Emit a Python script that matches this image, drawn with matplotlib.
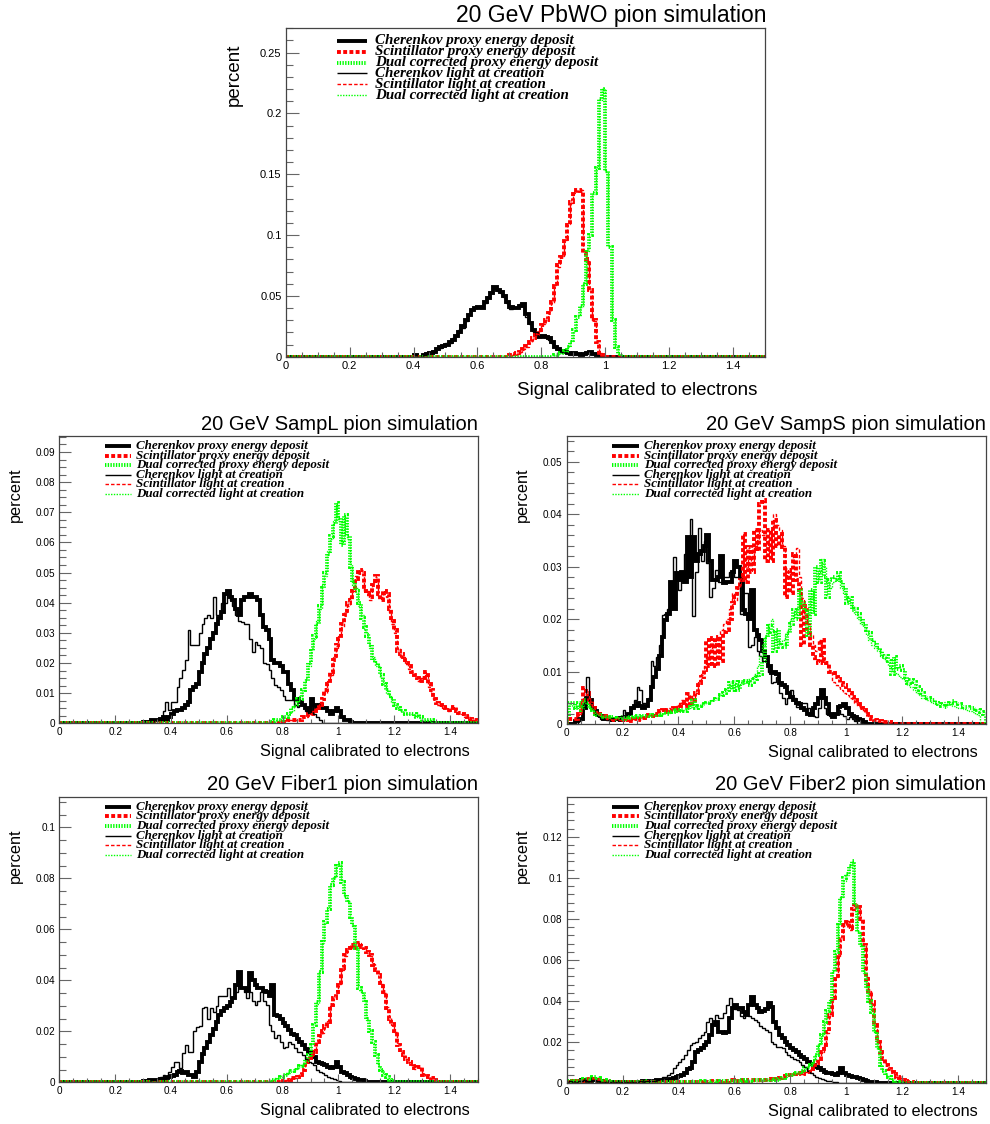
import numpy as np
import matplotlib
matplotlib.use("Agg")
from matplotlib import pyplot as plt
from matplotlib.ticker import MultipleLocator, FuncFormatter

plt.rcParams['font.family'] = 'Liberation Sans'

W, H = 990, 1124

# 150 bins of 0.01 between 0 and 1.5
edges = np.linspace(0.0, 1.5, 151)

labels = ["Cherenkov proxy energy deposit",
          "Scintillator proxy energy deposit",
          "Dual corrected proxy energy deposit",
          "Cherenkov light at creation",
          "Scintillator light at creation",
          "Dual corrected light at creation"]

# ---- PbWO: (first bin, contents) ----
pbwo_cer_dep = (0.40, [0.001, 0.0, 0.0, 0.001, 0.002, 0.003, 0.004, 0.006, 0.008, 0.009,
                       0.010, 0.012, 0.014, 0.017, 0.020, 0.025, 0.030, 0.034, 0.038, 0.040,
                       0.041, 0.040, 0.045, 0.048, 0.052, 0.057, 0.055, 0.053, 0.050, 0.045,
                       0.041, 0.040, 0.040, 0.042, 0.043, 0.035, 0.028, 0.022, 0.019, 0.016,
                       0.017, 0.016, 0.015, 0.012, 0.008, 0.006, 0.005, 0.004, 0.003, 0.002,
                       0.003, 0.002, 0.001, 0.002, 0.003, 0.004, 0.002, 0.001])
pbwo_sci_dep = (0.70, [0.001, 0.002, 0.003, 0.004, 0.006, 0.009, 0.012, 0.015, 0.018, 0.022,
                       0.026, 0.030, 0.036, 0.045, 0.058, 0.075, 0.082, 0.097, 0.108, 0.127,
                       0.134, 0.137, 0.136, 0.085, 0.080, 0.055, 0.030, 0.012, 0.003, 0.001])
pbwo_dual_dep = (0.84, [0.001, 0.002, 0.003, 0.005, 0.008, 0.012, 0.022, 0.033, 0.042, 0.060,
                        0.088, 0.100, 0.135, 0.155, 0.212, 0.220, 0.153, 0.090, 0.030, 0.008,
                        0.002])
pbwo_cer_light = (0.40, [0.001, 0.0, 0.0, 0.001, 0.002, 0.003, 0.005, 0.006, 0.007, 0.009,
                         0.011, 0.011, 0.015, 0.017, 0.022, 0.024, 0.029, 0.035, 0.039, 0.041,
                         0.040, 0.042, 0.044, 0.049, 0.053, 0.056, 0.054, 0.052, 0.049, 0.044,
                         0.039, 0.041, 0.041, 0.043, 0.042, 0.033, 0.027, 0.021, 0.020, 0.017,
                         0.016, 0.017, 0.014, 0.011, 0.009, 0.006, 0.004, 0.004, 0.003, 0.002,
                         0.002, 0.002, 0.001, 0.002, 0.003, 0.004, 0.002, 0.001])
pbwo_sci_light = (0.70, [0.001, 0.002, 0.002, 0.004, 0.006, 0.008, 0.012, 0.014, 0.019, 0.021,
                         0.027, 0.030, 0.037, 0.044, 0.059, 0.074, 0.083, 0.096, 0.109, 0.126,
                         0.135, 0.136, 0.137, 0.086, 0.079, 0.056, 0.029, 0.012, 0.003, 0.001])
pbwo_dual_light = (0.84, [0.001, 0.002, 0.003, 0.005, 0.008, 0.013, 0.021, 0.034, 0.041, 0.061,
                          0.087, 0.101, 0.134, 0.156, 0.211, 0.221, 0.152, 0.091, 0.031, 0.008,
                          0.002])

# ---- SampL ----
sampl_cer_dep = (0.30, [0.0005, 0.0005, 0.0005, 0.001, 0.001, 0.001, 0.0015, 0.002, 0.001, 0.002,
                        0.003, 0.004, 0.0045, 0.0045, 0.005, 0.006, 0.007, 0.011, 0.012, 0.013,
                        0.017, 0.020, 0.023, 0.025, 0.028, 0.030, 0.033, 0.035, 0.037, 0.043,
                        0.044, 0.042, 0.041, 0.038, 0.036, 0.041, 0.042, 0.042, 0.043, 0.042,
                        0.042, 0.041, 0.036, 0.032, 0.031, 0.028, 0.021, 0.020, 0.020, 0.019,
                        0.017, 0.017, 0.013, 0.011, 0.008, 0.008, 0.007, 0.006, 0.005, 0.004,
                        0.008, 0.006, 0.005, 0.006, 0.005, 0.005, 0.004, 0.003, 0.004, 0.005,
                        0.004, 0.002, 0.001, 0.001, 0.0005])
sampl_sci_dep = (0.80, [0.0005, 0.0005, 0.001, 0.001, 0.001, 0.001, 0.001, 0.002, 0.002, 0.003,
                        0.003, 0.004, 0.005, 0.006, 0.008, 0.011, 0.013, 0.017, 0.021, 0.026,
                        0.028, 0.033, 0.036, 0.040, 0.041, 0.045, 0.048, 0.051, 0.050, 0.044,
                        0.043, 0.042, 0.046, 0.049, 0.043, 0.041, 0.044, 0.043, 0.038, 0.034,
                        0.031, 0.024, 0.023, 0.022, 0.020, 0.019, 0.017, 0.016, 0.015, 0.014,
                        0.015, 0.017, 0.013, 0.011, 0.008, 0.0066, 0.006, 0.0055, 0.005, 0.0044,
                        0.005, 0.0055, 0.004, 0.0035, 0.003, 0.0025, 0.002, 0.0015, 0.001, 0.001])
sampl_dual_dep = (0.75, [0.0005, 0.0005, 0.001, 0.001, 0.001, 0.002, 0.002, 0.003, 0.005, 0.006,
                         0.008, 0.008, 0.011, 0.014, 0.020, 0.024, 0.029, 0.033, 0.039, 0.045,
                         0.050, 0.056, 0.062, 0.066, 0.073, 0.068, 0.059, 0.069, 0.062, 0.052,
                         0.047, 0.044, 0.040, 0.035, 0.032, 0.029, 0.026, 0.021, 0.020, 0.019,
                         0.016, 0.013, 0.011, 0.009, 0.008, 0.006, 0.005, 0.004, 0.004, 0.003,
                         0.003, 0.003, 0.002, 0.003, 0.002, 0.001, 0.001, 0.001, 0.001])
sampl_cer_light = (0.34, [0.001, 0.001, 0.001, 0.004, 0.007, 0.0044, 0.007, 0.0072, 0.012, 0.015,
                          0.0177, 0.021, 0.031, 0.026, 0.026, 0.026, 0.030, 0.033, 0.035, 0.036,
                          0.035, 0.042, 0.036, 0.036, 0.040, 0.040, 0.043, 0.041, 0.039, 0.036,
                          0.034, 0.0335, 0.033, 0.033, 0.028, 0.0237, 0.027, 0.026, 0.025, 0.020,
                          0.0196, 0.0177, 0.015, 0.0127, 0.012, 0.011, 0.009, 0.0077, 0.0077, 0.0077,
                          0.006, 0.0055, 0.006, 0.006, 0.004, 0.0033, 0.0083, 0.003, 0.002, 0.001])
sampl_sci_light = (0.80, [0.0005, 0.001, 0.001, 0.001, 0.001, 0.0015, 0.001, 0.002, 0.002, 0.003,
                          0.004, 0.004, 0.005, 0.007, 0.008, 0.010, 0.014, 0.016, 0.022, 0.025,
                          0.029, 0.032, 0.037, 0.039, 0.042, 0.044, 0.049, 0.050, 0.051, 0.044,
                          0.044, 0.041, 0.047, 0.048, 0.042, 0.042, 0.043, 0.042, 0.037, 0.033,
                          0.030, 0.025, 0.022, 0.022, 0.020, 0.018, 0.017, 0.016, 0.014, 0.015,
                          0.015, 0.016, 0.012, 0.010, 0.008, 0.006, 0.006, 0.005, 0.005, 0.004,
                          0.005, 0.005, 0.004, 0.003, 0.003, 0.002, 0.002, 0.0015, 0.001, 0.001])
sampl_dual_light = (0.75, [0.0005, 0.001, 0.001, 0.001, 0.0015, 0.002, 0.002, 0.003, 0.004, 0.006,
                           0.007, 0.009, 0.011, 0.015, 0.019, 0.025, 0.028, 0.034, 0.038, 0.046,
                           0.049, 0.057, 0.061, 0.067, 0.072, 0.067, 0.060, 0.068, 0.061, 0.053,
                           0.046, 0.045, 0.039, 0.036, 0.031, 0.030, 0.025, 0.022, 0.019, 0.019,
                           0.015, 0.013, 0.010, 0.009, 0.007, 0.006, 0.005, 0.004, 0.003, 0.003,
                           0.003, 0.003, 0.002, 0.002, 0.002, 0.001, 0.001, 0.001, 0.0005])

# ---- SampS ----
samps_cer_dep = (0.0, [0.0, 0.0, 0.0, 0.0005, 0.001, 0.001, 0.003, 0.005, 0.0045, 0.003,
                       0.0025, 0.002, 0.0015, 0.001, 0.0012, 0.001, 0.0008, 0.001, 0.0012, 0.0008,
                       0.001, 0.0014, 0.002, 0.003, 0.0035, 0.004, 0.0035, 0.003, 0.0035, 0.0046,
                       0.007, 0.009, 0.0105, 0.013, 0.0166, 0.0198, 0.021, 0.027, 0.022, 0.0287,
                       0.0274, 0.029, 0.027, 0.0357, 0.028, 0.0357, 0.031, 0.0325, 0.033, 0.034,
                       0.036, 0.031, 0.0274, 0.0274, 0.028, 0.032, 0.0268, 0.027, 0.027, 0.029,
                       0.031, 0.030, 0.028, 0.0217, 0.021, 0.020, 0.0255, 0.018, 0.017, 0.016,
                       0.014, 0.0128, 0.011, 0.0097, 0.010, 0.0095, 0.0078, 0.0075, 0.0071, 0.006,
                       0.0052, 0.0045, 0.004, 0.0039, 0.003, 0.0027, 0.002, 0.0017, 0.003, 0.0039,
                       0.005, 0.0065, 0.005, 0.0039, 0.002, 0.0014, 0.002, 0.0033, 0.0035, 0.0039,
                       0.003, 0.002, 0.0015, 0.0014, 0.001, 0.0008, 0.0003])
samps_sci_dep = (0.0, [0.0005, 0.001, 0.001, 0.001, 0.002, 0.004, 0.0068, 0.006, 0.0046, 0.003,
                       0.002, 0.002, 0.0018, 0.0015, 0.0012, 0.001, 0.001, 0.0008, 0.001, 0.0008,
                       0.001, 0.0008, 0.001, 0.0006, 0.001, 0.0008, 0.001, 0.0012, 0.0015, 0.0017,
                       0.0015, 0.002, 0.0017, 0.0025, 0.0027, 0.0022, 0.0027, 0.0025, 0.003, 0.0027,
                       0.0035, 0.004, 0.0035, 0.0058, 0.004, 0.0046, 0.006, 0.0078, 0.009, 0.0103,
                       0.016, 0.011, 0.0163, 0.011, 0.0166, 0.012, 0.0176, 0.018, 0.020, 0.023,
                       0.0243, 0.026, 0.0274, 0.0363, 0.027, 0.0338, 0.029, 0.037, 0.033, 0.042,
                       0.0427, 0.031, 0.037, 0.031, 0.0389, 0.034, 0.0363, 0.0338, 0.0243, 0.0294,
                       0.025, 0.0325, 0.0274, 0.0255, 0.015, 0.0224, 0.0173, 0.015, 0.0128, 0.012,
                       0.0116, 0.016, 0.012, 0.0116, 0.010, 0.0097, 0.009, 0.0085, 0.0078, 0.0075,
                       0.0071, 0.006, 0.0052, 0.0045, 0.0039, 0.003, 0.0027, 0.002, 0.0014, 0.001,
                       0.0008, 0.0006, 0.0005, 0.0003, 0.0003, 0.0003])
samps_dual_dep = (0.0, [0.002, 0.004, 0.004, 0.003, 0.004, 0.0027, 0.0046, 0.004, 0.003, 0.0027,
                        0.002, 0.0018, 0.0015, 0.0014, 0.0014, 0.0012, 0.0014, 0.001, 0.0012, 0.0014,
                        0.001, 0.0012, 0.0014, 0.0012, 0.0014, 0.0015, 0.0014, 0.0016, 0.0015, 0.0017,
                        0.0016, 0.0018, 0.0017, 0.002, 0.0018, 0.0022, 0.002, 0.0024, 0.0022, 0.0026,
                        0.0025, 0.0027, 0.0024, 0.003, 0.0033, 0.0046, 0.003, 0.0035, 0.0037, 0.0039,
                        0.004, 0.0042, 0.0046, 0.0048, 0.0052, 0.0055, 0.006, 0.0065, 0.0078, 0.0065,
                        0.008, 0.0065, 0.008, 0.0078, 0.0082, 0.0075, 0.008, 0.0085, 0.009, 0.0095,
                        0.012, 0.0165, 0.0186, 0.0175, 0.014, 0.018, 0.0147, 0.015, 0.0147, 0.0173,
                        0.019, 0.0217, 0.020, 0.0255, 0.023, 0.0217, 0.017, 0.0255, 0.021, 0.030,
                        0.027, 0.031, 0.028, 0.0243, 0.0274, 0.028, 0.0274, 0.0287, 0.027, 0.026,
                        0.023, 0.024, 0.0217, 0.022, 0.021, 0.020, 0.019, 0.018, 0.0173, 0.016,
                        0.0154, 0.0145, 0.014, 0.0128, 0.013, 0.012, 0.0095, 0.0128, 0.0105, 0.011,
                        0.0103, 0.009, 0.0078, 0.0084, 0.008, 0.007, 0.0065, 0.006, 0.0052, 0.005,
                        0.0046, 0.0045, 0.004, 0.0039, 0.0035, 0.0033, 0.0035, 0.004, 0.0043, 0.004,
                        0.0039, 0.0035, 0.0033, 0.0033, 0.003, 0.003, 0.0028, 0.0027, 0.0022, 0.002])
samps_cer_light = (0.0, [0.0, 0.0, 0.0, 0.0, 0.0005, 0.001, 0.004, 0.009, 0.004, 0.003,
                         0.002, 0.0015, 0.001, 0.001, 0.0008, 0.001, 0.0012, 0.001, 0.0008, 0.0015,
                         0.0027, 0.002, 0.002, 0.003, 0.0046, 0.0071, 0.0065, 0.004, 0.004, 0.005,
                         0.012, 0.011, 0.0128, 0.015, 0.0208, 0.021, 0.022, 0.025, 0.0319, 0.0274,
                         0.0255, 0.028, 0.0325, 0.0357, 0.039, 0.0205, 0.029, 0.0373, 0.031, 0.0348,
                         0.0306, 0.0243, 0.026, 0.0294, 0.027, 0.027, 0.028, 0.028, 0.029, 0.0294,
                         0.028, 0.028, 0.021, 0.025, 0.025, 0.0147, 0.015, 0.0166, 0.014, 0.013,
                         0.012, 0.012, 0.010, 0.0078, 0.008, 0.009, 0.006, 0.005, 0.0039, 0.005,
                         0.0065, 0.005, 0.0033, 0.0035, 0.004, 0.004, 0.003, 0.002, 0.0015, 0.0014,
                         0.003, 0.006, 0.003, 0.002, 0.0015, 0.0015, 0.002, 0.0027, 0.002, 0.0015,
                         0.001, 0.0014, 0.001, 0.0005])
samps_sci_light = (0.0, [0.0005, 0.001, 0.001, 0.0015, 0.002, 0.0045, 0.006, 0.0055, 0.004, 0.003,
                         0.0025, 0.002, 0.0015, 0.0015, 0.001, 0.001, 0.0008, 0.001, 0.0008, 0.0008,
                         0.001, 0.001, 0.0008, 0.001, 0.001, 0.001, 0.0012, 0.0014, 0.0015, 0.0017,
                         0.0018, 0.002, 0.0022, 0.0024, 0.0027, 0.0025, 0.003, 0.0028, 0.0032, 0.0035,
                         0.004, 0.0045, 0.004, 0.005, 0.0055, 0.005, 0.006, 0.008, 0.0095, 0.011,
                         0.013, 0.014, 0.015, 0.016, 0.0165, 0.018, 0.019, 0.020, 0.022, 0.025,
                         0.0235, 0.026, 0.028, 0.031, 0.030, 0.032, 0.031, 0.034, 0.035, 0.037,
                         0.036, 0.033, 0.035, 0.037, 0.040, 0.038, 0.037, 0.034, 0.029, 0.028,
                         0.030, 0.032, 0.0335, 0.028, 0.024, 0.021, 0.019, 0.017, 0.015, 0.014,
                         0.016, 0.013, 0.012, 0.011, 0.010, 0.008, 0.0075, 0.007, 0.0065, 0.006,
                         0.0055, 0.005, 0.0045, 0.004, 0.0035, 0.003, 0.0025, 0.002, 0.0015, 0.001,
                         0.0008, 0.0006, 0.0005, 0.0004, 0.0003])
samps_dual_light = (0.0, [0.003, 0.004, 0.0035, 0.003, 0.0035, 0.003, 0.004, 0.0038, 0.003, 0.0025,
                          0.002, 0.0018, 0.0015, 0.0014, 0.0013, 0.0012, 0.0013, 0.0011, 0.0012, 0.0013,
                          0.0011, 0.0012, 0.0013, 0.0013, 0.0014, 0.0014, 0.0015, 0.0015, 0.0016, 0.0017,
                          0.0017, 0.0018, 0.0018, 0.0019, 0.002, 0.0021, 0.0021, 0.0023, 0.0023, 0.0025,
                          0.0026, 0.0027, 0.0026, 0.003, 0.0032, 0.0038, 0.0033, 0.0036, 0.0038, 0.004,
                          0.0042, 0.0044, 0.0047, 0.005, 0.0053, 0.0056, 0.0062, 0.0068, 0.0072, 0.0068,
                          0.0074, 0.0072, 0.0076, 0.0078, 0.008, 0.0085, 0.0088, 0.0095, 0.011, 0.013,
                          0.015, 0.017, 0.019, 0.020, 0.0175, 0.016, 0.0155, 0.016, 0.017, 0.018,
                          0.020, 0.021, 0.022, 0.024, 0.023, 0.022, 0.021, 0.024, 0.025, 0.027,
                          0.029, 0.0315, 0.030, 0.027, 0.026, 0.027, 0.0275, 0.028, 0.026, 0.025,
                          0.024, 0.023, 0.0225, 0.021, 0.020, 0.019, 0.0185, 0.017, 0.016, 0.015,
                          0.0145, 0.014, 0.013, 0.0125, 0.012, 0.011, 0.0105, 0.010, 0.0095, 0.009,
                          0.0085, 0.008, 0.0075, 0.007, 0.0065, 0.006, 0.0055, 0.005, 0.0048, 0.0045,
                          0.0042, 0.004, 0.0038, 0.0036, 0.0038, 0.0042, 0.004, 0.0038, 0.0035, 0.0033,
                          0.003, 0.003, 0.0028, 0.0026, 0.0025, 0.0022, 0.002, 0.0018])

# ---- Fiber1 ----
fiber1_cer_dep = (0.30, [0.0005, 0.0005, 0.001, 0.0008, 0.001, 0.001, 0.0012, 0.001, 0.0016, 0.002,
                         0.0025, 0.003, 0.004, 0.0045, 0.0035, 0.004, 0.003, 0.003, 0.0022, 0.004,
                         0.008, 0.011, 0.0133, 0.016, 0.0186, 0.021, 0.0238, 0.0264, 0.028, 0.029,
                         0.030, 0.0315, 0.033, 0.038, 0.0434, 0.0369, 0.037, 0.036, 0.0427, 0.040,
                         0.038, 0.0369, 0.037, 0.036, 0.0356, 0.034, 0.038, 0.0264, 0.026, 0.025,
                         0.0231, 0.022, 0.0205, 0.019, 0.0186, 0.017, 0.016, 0.0146, 0.013, 0.012,
                         0.0114, 0.010, 0.008, 0.0075, 0.007, 0.0068, 0.006, 0.0055, 0.006, 0.008,
                         0.006, 0.0042, 0.0035, 0.003, 0.002, 0.0016, 0.0012, 0.001, 0.0008, 0.0005,
                         0.0003])
fiber1_sci_dep = (0.80, [0.0005, 0.001, 0.001, 0.0016, 0.0016, 0.002, 0.003, 0.005, 0.008, 0.0094,
                         0.011, 0.012, 0.016, 0.018, 0.020, 0.022, 0.0238, 0.0303, 0.033, 0.0356,
                         0.038, 0.0447, 0.050, 0.052, 0.0539, 0.0525, 0.054, 0.0545, 0.053, 0.0525,
                         0.051, 0.050, 0.046, 0.044, 0.042, 0.039, 0.0356, 0.029, 0.025, 0.023,
                         0.020, 0.0146, 0.012, 0.0107, 0.009, 0.008, 0.0065, 0.0055, 0.006, 0.006,
                         0.003, 0.0025, 0.002, 0.0016, 0.001, 0.0005])
fiber1_dual_dep = (0.75, [0.0005, 0.001, 0.001, 0.0016, 0.002, 0.003, 0.003, 0.004, 0.0045, 0.005,
                          0.006, 0.0065, 0.0068, 0.009, 0.0107, 0.0146, 0.0225, 0.0316, 0.0434, 0.055,
                          0.063, 0.068, 0.0774, 0.080, 0.085, 0.086, 0.0787, 0.0735, 0.0708, 0.065,
                          0.0617, 0.0525, 0.0369, 0.0356, 0.0316, 0.025, 0.020, 0.016, 0.0107, 0.0068,
                          0.005, 0.003, 0.002, 0.001, 0.0005])
fiber1_cer_light = (0.33, [0.001, 0.001, 0.0015, 0.002, 0.003, 0.0016, 0.004, 0.006, 0.008, 0.008,
                           0.0055, 0.0114, 0.0146, 0.012, 0.012, 0.020, 0.0218, 0.022, 0.029, 0.0297,
                           0.025, 0.029, 0.0277, 0.030, 0.034, 0.034, 0.034, 0.0369, 0.033, 0.033,
                           0.0356, 0.0395, 0.037, 0.0356, 0.033, 0.0356, 0.032, 0.0303, 0.032, 0.0356,
                           0.032, 0.0303, 0.0225, 0.020, 0.0173, 0.0186, 0.016, 0.0133, 0.014, 0.016,
                           0.015, 0.0133, 0.012, 0.012, 0.0107, 0.009, 0.008, 0.0075, 0.0068, 0.005,
                           0.0042, 0.0035, 0.003, 0.002, 0.0016, 0.0012, 0.001, 0.0005])
fiber1_sci_light = (0.80, [0.0005, 0.0008, 0.0012, 0.0015, 0.0018, 0.0022, 0.0032, 0.0048, 0.0078, 0.0098,
                           0.0105, 0.0125, 0.0155, 0.0185, 0.0195, 0.0225, 0.0242, 0.0298, 0.0335, 0.0352,
                           0.0385, 0.0442, 0.0495, 0.0525, 0.0535, 0.0528, 0.0535, 0.0548, 0.0528, 0.0522,
                           0.0515, 0.0495, 0.0465, 0.0435, 0.0425, 0.0385, 0.0352, 0.0295, 0.0255, 0.0225,
                           0.0198, 0.0152, 0.0118, 0.0105, 0.0092, 0.0078, 0.0068, 0.0052, 0.0062, 0.0058,
                           0.0032, 0.0024, 0.0018, 0.0015, 0.001, 0.0005])
fiber1_dual_light = (0.75, [0.0005, 0.001, 0.0015, 0.0015, 0.002, 0.0028, 0.0032, 0.0038, 0.0045, 0.0052,
                            0.0058, 0.0068, 0.007, 0.0085, 0.0102, 0.0152, 0.0232, 0.0308, 0.0441, 0.0545,
                            0.0625, 0.0688, 0.0768, 0.0806, 0.0846, 0.0858, 0.0795, 0.0728, 0.0712, 0.0645,
                            0.0612, 0.0532, 0.0375, 0.0352, 0.0322, 0.0245, 0.0205, 0.0155, 0.0112, 0.0065,
                            0.0048, 0.0032, 0.0018, 0.001, 0.0005])

# ---- Fiber2 ----
fiber2_cer_dep = (0.0, [0.0005, 0.0005, 0.001, 0.0005, 0.001, 0.0015, 0.001, 0.0015, 0.001, 0.002,
                        0.0015, 0.001, 0.001, 0.0008, 0.0005, 0.0005, 0.0008, 0.0005, 0.0005, 0.0008,
                        0.0005, 0.0005, 0.0008, 0.0005, 0.0008, 0.0005, 0.0008, 0.001, 0.0008, 0.001,
                        0.001, 0.0012, 0.0015, 0.0014, 0.0016, 0.0016, 0.0018, 0.002, 0.0024, 0.003,
                        0.0035, 0.004, 0.005, 0.007, 0.0073, 0.0105, 0.0154, 0.016, 0.017, 0.0186,
                        0.0203, 0.0235, 0.0284, 0.030, 0.025, 0.025, 0.0243, 0.025, 0.0316, 0.0365,
                        0.038, 0.0365, 0.0365, 0.0349, 0.0332, 0.038, 0.042, 0.038, 0.0365, 0.0349,
                        0.035, 0.036, 0.0389, 0.037, 0.030, 0.0268, 0.0235, 0.022, 0.0203, 0.0186,
                        0.017, 0.016, 0.0154, 0.0138, 0.013, 0.012, 0.0105, 0.0095, 0.0089, 0.008,
                        0.0073, 0.0065, 0.0057, 0.005, 0.0049, 0.0045, 0.004, 0.005, 0.0073, 0.005,
                        0.004, 0.0035, 0.0032, 0.003, 0.0024, 0.002, 0.0015, 0.001, 0.0008, 0.0005,
                        0.0005])
fiber2_sci_dep = (0.0, [0.0005, 0.0005, 0.001, 0.0005, 0.001, 0.001, 0.0015, 0.0015, 0.002, 0.002,
                        0.002, 0.0015, 0.0015, 0.001, 0.001, 0.0008, 0.0005, 0.0005, 0.0005, 0.0008,
                        0.0005, 0.0005, 0.0008, 0.0005, 0.0005, 0.0008, 0.0005, 0.0005, 0.0008, 0.0005,
                        0.0008, 0.0005, 0.0005, 0.0008, 0.0005, 0.0008, 0.0005, 0.0005, 0.0008, 0.0005,
                        0.0008, 0.0005, 0.0005, 0.0008, 0.0005, 0.0008, 0.0008, 0.0005, 0.0008, 0.001,
                        0.0008, 0.001, 0.0008, 0.0008, 0.001, 0.0008, 0.001, 0.0012, 0.0015, 0.0018,
                        0.0012, 0.001, 0.0012, 0.0014, 0.0012, 0.0015, 0.0014, 0.0016, 0.0015, 0.0018,
                        0.0016, 0.0018, 0.002, 0.0018, 0.002, 0.0022, 0.0024, 0.003, 0.0035, 0.004,
                        0.004, 0.0045, 0.0049, 0.005, 0.0045, 0.0055, 0.0057, 0.007, 0.0089, 0.010,
                        0.012, 0.015, 0.0186, 0.025, 0.0332, 0.0413, 0.051, 0.0624, 0.070, 0.077,
                        0.0786, 0.0754, 0.085, 0.0868, 0.086, 0.080, 0.0673, 0.051, 0.045, 0.0397,
                        0.0284, 0.0203, 0.0154, 0.012, 0.0089, 0.007, 0.0057, 0.0045, 0.0032, 0.0025,
                        0.0016, 0.001, 0.0008, 0.0005])
fiber2_dual_dep = (0.0, [0.0005, 0.001, 0.0005, 0.001, 0.001, 0.0015, 0.002, 0.002, 0.0025, 0.003,
                         0.003, 0.0025, 0.002, 0.0015, 0.001, 0.001, 0.0008, 0.0005, 0.0005, 0.0005,
                         0.0005, 0.0008, 0.0005, 0.0005, 0.0008, 0.0005, 0.0005, 0.0008, 0.001, 0.0005,
                         0.0005, 0.0008, 0.0005, 0.0008, 0.0005, 0.0005, 0.0008, 0.0005, 0.0005, 0.0008,
                         0.0005, 0.0005, 0.0008, 0.0005, 0.0005, 0.0008, 0.0005, 0.0008, 0.001, 0.0008,
                         0.0008, 0.001, 0.0008, 0.001, 0.0008, 0.001, 0.001, 0.0012, 0.001, 0.0012,
                         0.001, 0.0012, 0.0014, 0.0012, 0.0014, 0.0012, 0.0015, 0.0014, 0.0015, 0.0016,
                         0.0016, 0.0018, 0.0016, 0.0018, 0.002, 0.0018, 0.002, 0.0024, 0.003, 0.004,
                         0.004, 0.0045, 0.0049, 0.005, 0.006, 0.0073, 0.008, 0.0089, 0.011, 0.0138,
                         0.0186, 0.0235, 0.030, 0.035, 0.0397, 0.0543, 0.064, 0.077, 0.090, 0.0997,
                         0.102, 0.106, 0.108, 0.0868, 0.0738, 0.0673, 0.0543, 0.0462, 0.040, 0.0349,
                         0.025, 0.017, 0.0089, 0.006, 0.004, 0.003, 0.0016, 0.001, 0.0005])
fiber2_cer_light = (0.0, [0.0005, 0.001, 0.0005, 0.0008, 0.001, 0.001, 0.0015, 0.001, 0.0012, 0.0015,
                          0.0012, 0.001, 0.0008, 0.0005, 0.0005, 0.0008, 0.0005, 0.0005, 0.0005, 0.0008,
                          0.0005, 0.0008, 0.0005, 0.0008, 0.0005, 0.0008, 0.001, 0.0008, 0.001, 0.001,
                          0.001, 0.0012, 0.0015, 0.002, 0.0032, 0.003, 0.004, 0.005, 0.0073, 0.009,
                          0.0105, 0.012, 0.0138, 0.016, 0.0186, 0.0195, 0.020, 0.0219, 0.0235, 0.025,
                          0.030, 0.0316, 0.0284, 0.0332, 0.032, 0.0316, 0.034, 0.038, 0.0413, 0.0365,
                          0.036, 0.0357, 0.033, 0.0316, 0.0349, 0.033, 0.0316, 0.031, 0.030, 0.028,
                          0.0268, 0.026, 0.025, 0.0203, 0.019, 0.0178, 0.0175, 0.017, 0.015, 0.0138,
                          0.013, 0.012, 0.0114, 0.0105, 0.009, 0.0081, 0.006, 0.005, 0.004, 0.003,
                          0.0024, 0.002, 0.0016, 0.0012, 0.001, 0.0008, 0.0005])
fiber2_sci_light = (0.70, [0.0015, 0.0017, 0.0021, 0.0019, 0.0021, 0.0023, 0.0025, 0.0031, 0.0034, 0.0041,
                           0.0039, 0.0046, 0.0048, 0.0052, 0.0047, 0.0054, 0.0059, 0.0072, 0.0087, 0.0102,
                           0.0118, 0.0152, 0.0188, 0.0245, 0.0335, 0.0408, 0.0515, 0.0618, 0.0705, 0.0765,
                           0.0792, 0.0748, 0.0845, 0.0875, 0.0855, 0.0795, 0.0678, 0.0515, 0.0448, 0.0392,
                           0.0288, 0.0198, 0.0158, 0.0118, 0.0092, 0.0068, 0.0058, 0.0044, 0.0033, 0.0024,
                           0.0016, 0.001, 0.0008, 0.0005])
fiber2_dual_light = (0.70, [0.0015, 0.0018, 0.0017, 0.002, 0.0022, 0.002, 0.0023, 0.0026, 0.0032, 0.0038,
                            0.0042, 0.0044, 0.0048, 0.0052, 0.0062, 0.0075, 0.0082, 0.0092, 0.0115, 0.0142,
                            0.0192, 0.0242, 0.0298, 0.0355, 0.0405, 0.0552, 0.0648, 0.0775, 0.0905, 0.0985,
                            0.1015, 0.1052, 0.1075, 0.0872, 0.0742, 0.0668, 0.0538, 0.0455, 0.0395, 0.0342,
                            0.0248, 0.0165, 0.0092, 0.0062, 0.0042, 0.0028, 0.0016, 0.001, 0.0005])

# line attributes in legend order
styles = [
    dict(color='black', lw=2.8, ls='-'),
    dict(color='#ff0000', lw=2.8, ls=(0, (1.0, 0.6))),
    dict(color='#00ff00', lw=2.8, ls=(0, (0.35, 0.35))),
    dict(color='black', lw=1.0, ls='-'),
    dict(color='#ff0000', lw=1.0, ls=(0, (2.5, 1.5))),
    dict(color='#00ff00', lw=1.0, ls=(0, (1.0, 1.0))),
]


def hist(start, values):
    h = np.zeros(len(edges) - 1)
    i = int(round(start / 0.01))
    h[i:i + len(values)] = values
    return h


def fig_xy(x, y):
    return x / W, 1 - y / H


def draw_panel(fig, box, series, ymax, ymajor, yminor, sizes, leg):
    left, top, right, bottom = box
    ax = fig.add_axes([left / W, 1 - bottom / H, (right - left) / W, (bottom - top) / H])
    for (start, vals), st in zip(series, styles):
        ax.stairs(hist(start, vals), edges, color=st['color'], lw=st['lw'],
                  linestyle=st['ls'], joinstyle='miter', capstyle='butt')

    ax.set_xlim(0, 1.5)
    ax.set_ylim(0, ymax)
    fmt = FuncFormatter(lambda v, p: f"{v:g}")
    ax.xaxis.set_major_locator(MultipleLocator(0.2))
    ax.xaxis.set_minor_locator(MultipleLocator(0.05))
    ax.yaxis.set_major_locator(MultipleLocator(ymajor))
    ax.yaxis.set_minor_locator(MultipleLocator(yminor))
    ax.xaxis.set_major_formatter(fmt)
    ax.yaxis.set_major_formatter(fmt)

    tick_fs, ylen, xlen = sizes['tick'], sizes['ylen'], sizes['xlen']
    ax.tick_params(which='both', direction='in', top=False, right=False,
                   color='#666666', width=0.8, labelsize=tick_fs, pad=3)
    ax.tick_params(axis='y', which='major', length=ylen)
    ax.tick_params(axis='y', which='minor', length=ylen * 0.55)
    ax.tick_params(axis='x', which='major', length=xlen)
    ax.tick_params(axis='x', which='minor', length=xlen * 0.5)
    for sp in ax.spines.values():
        sp.set_color('#444444')
        sp.set_linewidth(0.9)

    # legend without a frame, drawn in axes coordinates
    wpx, hpx = right - left, bottom - top
    x0, x1, xt = leg['x0'] / wpx, leg['x1'] / wpx, leg['xt'] / wpx
    for k, (lab, st) in enumerate(zip(labels, styles)):
        y = 1 - (leg['first'] + k * leg['step']) / hpx
        ax.plot([x0, x1], [y, y], transform=ax.transAxes, color=st['color'],
                lw=st['lw'], linestyle=st['ls'], solid_capstyle='butt',
                dash_capstyle='butt', clip_on=False)
        ax.text(xt, y, lab, transform=ax.transAxes, va='center', ha='left',
                family='Liberation Serif', style='italic', weight='bold',
                fontsize=leg['fs'])
    return ax


fig = plt.figure(figsize=(W / 100, H / 100), dpi=100)

big = dict(tick=8, ylen=9.5, xlen=7)
small = dict(tick=7.2, ylen=8.6, xlen=6)
leg_big = dict(x0=51.3, x1=81.3, xt=89.3, first=12.4, step=10.9, fs=10.8)
leg_small = dict(x0=45.5, x1=72.0, xt=77.0, first=10.0, step=9.6, fs=9.4)

panels = [
    ("PbWO", (285.7, 28.3, 765.0, 356.7),
     [pbwo_cer_dep, pbwo_sci_dep, pbwo_dual_dep, pbwo_cer_light, pbwo_sci_light, pbwo_dual_light],
     0.27, 0.05, 0.01, big, leg_big),
    ("SampL", (59.3, 436.0, 478.0, 723.3),
     [sampl_cer_dep, sampl_sci_dep, sampl_dual_dep, sampl_cer_light, sampl_sci_light, sampl_dual_light],
     0.0953, 0.01, 0.0025, small, leg_small),
    ("SampS", (566.7, 436.0, 985.7, 724.0),
     [samps_cer_dep, samps_sci_dep, samps_dual_dep, samps_cer_light, samps_sci_light, samps_dual_light],
     0.0549, 0.01, 0.002, small, leg_small),
    ("Fiber1", (59.3, 796.7, 478.0, 1082.3),
     [fiber1_cer_dep, fiber1_sci_dep, fiber1_dual_dep, fiber1_cer_light, fiber1_sci_light, fiber1_dual_light],
     0.112, 0.02, 0.005, small, leg_small),
    ("Fiber2", (566.7, 796.7, 985.7, 1083.3),
     [fiber2_cer_dep, fiber2_sci_dep, fiber2_dual_dep, fiber2_cer_light, fiber2_sci_light, fiber2_dual_light],
     0.1395, 0.02, 0.004, small, leg_small),
]

for name, box, series, ymax, ymaj, ymin, sizes, leg in panels:
    draw_panel(fig, box, series, ymax, ymaj, ymin, sizes, leg)
    left, top, right, bottom = box
    if name == "PbWO":
        title_fs, lab_fs = 16.5, 13.5
        fig.text(*fig_xy(right + 1, top - 13), f"20 GeV {name} pion simulation",
                 ha='right', va='center', fontsize=title_fs)
        fig.text(*fig_xy(right - 8, bottom + 34), "Signal calibrated to electrons",
                 ha='right', va='center', fontsize=lab_fs)
        fig.text(*fig_xy(left - 51, top + 15), "percent", rotation=90,
                 ha='center', va='top', fontsize=lab_fs)
    else:
        title_fs, lab_fs = 14.5, 11.7
        fig.text(*fig_xy(right, top - 12), f"20 GeV {name} pion simulation",
                 ha='right', va='center', fontsize=title_fs)
        fig.text(*fig_xy(right - 8, bottom + 28), "Signal calibrated to electrons",
                 ha='right', va='center', fontsize=lab_fs)
        fig.text(*fig_xy(left - 44, top + 32), "percent", rotation=90,
                 ha='center', va='top', fontsize=lab_fs)

fig.savefig("out.png", dpi=100, facecolor='white')
